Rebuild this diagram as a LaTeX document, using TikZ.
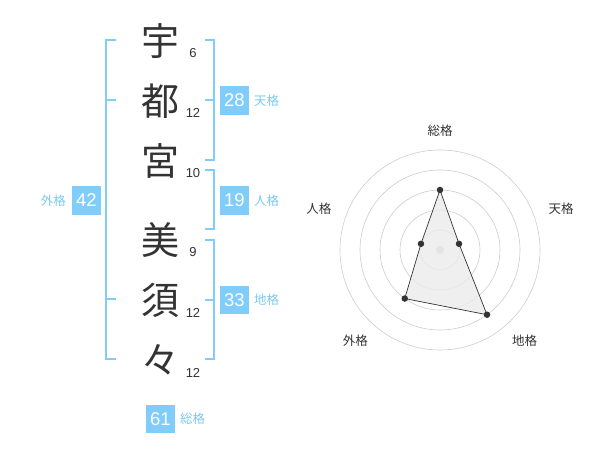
\documentclass[tikz,border=0pt]{standalone}
\usepackage{fontspec}
\setmainfont{Liberation Sans}
\newfontfamily\jp{Noto Sans CJK JP}
\usepackage{xcolor}
\usepackage{tikz}
\usetikzlibrary{positioning}
\definecolor{kakublue}{RGB}{128,204,250}
\definecolor{kakutext}{RGB}{125,200,240}
\definecolor{inkgray}{RGB}{51,51,51}
\definecolor{ringgray}{RGB}{204,204,204}
\tikzset{
  kanji/.style={font=\jp\fontsize{38}{38}\selectfont, text=inkgray, inner sep=0pt},
  strokes/.style={font=\fontsize{13}{13}\selectfont, text=inkgray, inner sep=0pt},
  numbox/.style={fill=kakublue, text=white, minimum width=28.5pt, minimum height=28.5pt, inner sep=0pt, font=\fontsize{18.5}{18.5}\selectfont},
  kaku/.style={font=\jp\fontsize{12.5}{12.5}\selectfont, text=kakutext, inner sep=0pt},
  axislbl/.style={font=\jp\fontsize{12.5}{12.5}\selectfont, text=inkgray, inner sep=0pt},
  bracket/.style={draw=kakublue, line width=2pt},
  ring/.style={draw=ringgray, line width=0.6pt},
  pt/.style={circle, fill=inkgray, inner sep=0pt, minimum size=6.5pt},
}
\begin{document}
\begin{tikzpicture}[x=1pt, y=-1pt]
  \useasboundingbox (0,0) rectangle (600,470);
  % name column
  \node[kanji] (c1) at (160,41) {宇};
  \node[kanji] (c2) at (160,101) {都};
  \node[kanji] (c3) at (160,161) {宮};
  \node[kanji] (c4) at (160,240) {美};
  \node[kanji] (c5) at (160,300) {須};
  \node[kanji] (c6) at (160,360) {々};
  \node[strokes] (s1) at (193,53) {6};
  \node[strokes] (s2) at (193,113) {12};
  \node[strokes] (s3) at (193,173) {10};
  \node[strokes] (s4) at (193,252) {9};
  \node[strokes] (s5) at (193,313) {12};
  \node[strokes] (s6) at (193,373) {12};
  % brackets
  \draw[bracket] (205,40) -- (214,40) -- (214,160) -- (205,160);
  \draw[bracket] (205,100) -- (214,100);
  \draw[bracket] (205,170) -- (214,170) -- (214,229) -- (205,229);
  \draw[bracket] (205,240) -- (214,240) -- (214,359) -- (205,359);
  \draw[bracket] (205,300) -- (214,300);
  \draw[bracket] (116,40) -- (106,40) -- (106,359) -- (116,359);
  \draw[bracket] (106,100) -- (116,100);
  \draw[bracket] (106,299) -- (116,299);
  % scores
  \node[numbox] (ten) at (234.5,100.5) {28};
  \node[kaku, right=5pt of ten] (tenl) {天格};
  \node[numbox] (jin) at (234.5,200.5) {19};
  \node[kaku, right=5pt of jin] (jinl) {人格};
  \node[numbox] (chi) at (234.5,300) {33};
  \node[kaku, right=5pt of chi] (chil) {地格};
  \node[numbox] (gai) at (86.5,200.5) {42};
  \node[kaku, left=6pt of gai] (gail) {外格};
  \node[numbox] (sou) at (160.5,419) {61};
  \node[kaku, right=5pt of sou] (soul) {総格};
  % radar chart
  \begin{scope}[shift={(440,250)}, y=1pt]
    \foreach \r in {20,40,...,100}
      \draw[ring] (0,0) circle (\r);
    \fill[ringgray] (0,0) circle (4);
    \coordinate (rs) at (90:60);
    \coordinate (rt) at (18:20);
    \coordinate (rc) at (-54:80);
    \coordinate (rg) at (-126:60);
    \coordinate (rj) at (162:20);
    \filldraw[fill=black!8, fill opacity=0.8, draw=inkgray, line width=0.7pt]
      (rs) -- (rt) -- (rc) -- (rg) -- (rj) -- cycle;
    \foreach \p in {rs,rt,rc,rg,rj}
      \node[pt] at (\p) {};
    \node[axislbl] (as) at (90:119) {総格};
    \node[axislbl] (at) at (19:128) {天格};
    \node[axislbl] (ac) at (-47:124) {地格};
    \node[axislbl] (ag) at (-133:124) {外格};
    \node[axislbl] (aj) at (161:128) {人格};
  \end{scope}
\end{tikzpicture}
\end{document}
